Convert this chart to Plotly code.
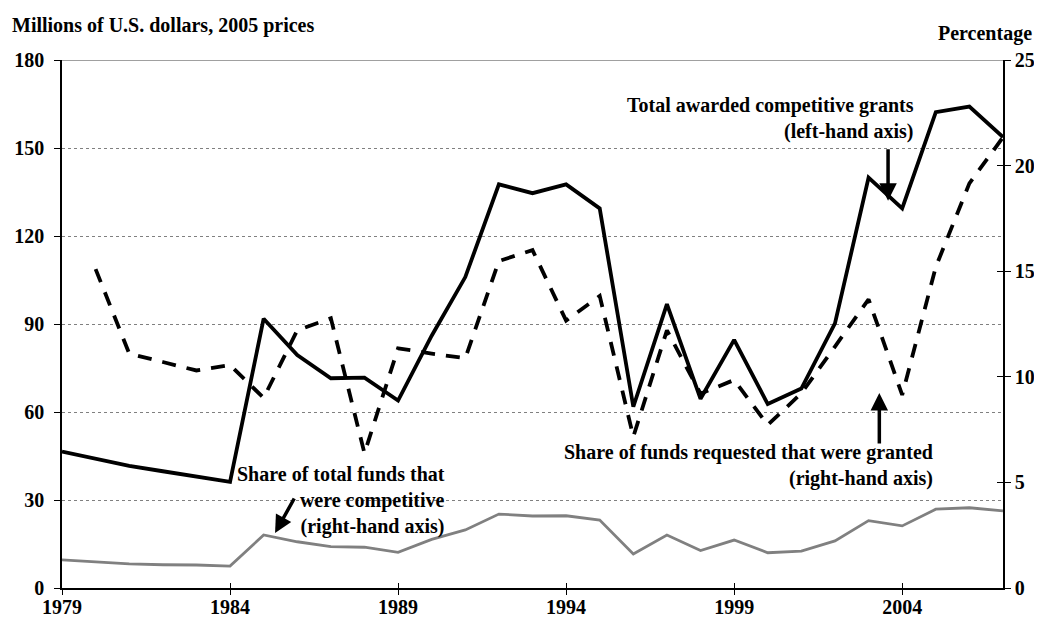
import plotly.graph_objects as go

years = list(range(1979, 2008))

# Total awarded competitive grants (millions of 2005 USD, left axis)
total_awarded = [46.5, 44.2, 41.6, 39.8, 37.9, 36.2, 91.8, 79.4, 71.5, 71.7,
                 63.9, 86.0, 106.0, 137.6, 134.6, 137.6, 129.4, 61.8, 96.8, 64.5,
                 84.6, 62.7, 68.0, 90.2, 139.9, 129.4, 162.2, 164.1, 153.7]

# Share of funds requested that were granted (%, right axis)
share_granted = [None, 15.1, 11.1, 10.7, 10.3, 10.55, 9.0, 12.2, 12.77, 6.38,
                 11.35, 11.1, 10.88, 15.48, 16.0, 12.66, 13.83, 7.16, 12.2, 9.2,
                 9.85, 7.72, 9.22, 11.43, 13.67, 9.14, 15.2, 19.16, 21.34]

# Share of total funds that were competitive (%, right axis)
share_competitive = [1.33, 1.24, 1.14, 1.1, 1.09, 1.04, 2.51, 2.19, 1.96, 1.93,
                     1.69, 2.3, 2.75, 3.5, 3.41, 3.42, 3.22, 1.61, 2.51, 1.77,
                     2.27, 1.67, 1.75, 2.23, 3.19, 2.94, 3.73, 3.8, 3.65]

left_ticks = [0, 30, 60, 90, 120, 150, 180]
right_ticks = [0, 5, 10, 15, 20, 25]
x_ticks = [1979, 1984, 1989, 1994, 1999, 2004]

FONT = "Liberation Serif, Times New Roman, serif"
FS = 20

fig = go.Figure()
fig.add_trace(go.Scatter(x=years, y=total_awarded, mode="lines",
                         line=dict(color="black", width=3.8), yaxis="y",
                         showlegend=False))
fig.add_trace(go.Scatter(x=years, y=share_granted, mode="lines",
                         line=dict(color="black", width=3.8, dash="14px,11px"),
                         yaxis="y2", showlegend=False, connectgaps=False))
fig.add_trace(go.Scatter(x=years, y=share_competitive, mode="lines",
                         line=dict(color="#808080", width=2.8), yaxis="y2",
                         showlegend=False))

tf = dict(family=FONT, size=FS, color="black", weight="bold")

# page body has an 8px margin: size the figure so the plot area lands where the reference has it
fig.update_layout(
    width=1034, height=609,
    margin=dict(l=54, r=39, t=52, b=29, autoexpand=False),
    paper_bgcolor="white", plot_bgcolor="white",
    font=dict(family=FONT, size=FS, color="black", weight="bold"),
    xaxis=dict(range=[1979, 2007], tickvals=x_ticks, ticktext=[str(v) for v in x_ticks],
               showgrid=False, zeroline=False, showline=True, linecolor="black",
               linewidth=1.5, ticks="outside", ticklen=5, tickcolor="black",
               ticklabelstandoff=-5, automargin=False, tickfont=tf),
    xaxis2=dict(range=[1979, 2007], tickvals=x_ticks, overlaying="x", side="bottom",
                anchor="y", showgrid=False, zeroline=False, showline=False,
                ticks="inside", ticklen=5, tickcolor="black", showticklabels=False,
                automargin=False),
    yaxis=dict(range=[0, 180], tickvals=left_ticks, showgrid=True,
               gridcolor="#808080", griddash="dot", gridwidth=1,
               zeroline=False, showline=True, linecolor="black", linewidth=1.5,
               ticks="outside", ticklen=6, tickcolor="black",
               ticklabelstandoff=6, automargin=False, tickfont=tf),
    yaxis2=dict(range=[0, 25], tickvals=right_ticks, overlaying="y", side="right",
                showgrid=False, zeroline=False, showline=True, linecolor="black",
                linewidth=1.5, ticks="outside", ticklen=6, tickcolor="black",
                ticklabelstandoff=0, automargin=False, tickfont=tf),
    yaxis3=dict(range=[0, 25], tickvals=right_ticks, overlaying="y", side="right",
                anchor="x", showgrid=False, zeroline=False, showline=False,
                ticks="inside", ticklen=6, tickcolor="black", showticklabels=False,
                automargin=False),
)

# empty traces so the inside-tick overlay axes are drawn
fig.add_trace(go.Scatter(x=[], y=[], xaxis="x2", yaxis="y", showlegend=False, hoverinfo="skip"))
fig.add_trace(go.Scatter(x=[], y=[], xaxis="x", yaxis="y3", showlegend=False, hoverinfo="skip"))

# solid grey top border at 180
fig.add_shape(type="line", xref="paper", yref="y", x0=0, x1=1, y0=180, y1=180,
              line=dict(color="#808080", width=1.5))

afont = dict(family=FONT, size=FS, color="black", weight="bold")

# axis titles
fig.add_annotation(text="Millions of U.S. dollars, 2005 prices", xref="paper", yref="paper",
                   x=-0.0551, y=1.066, xanchor="left", yanchor="middle", showarrow=False,
                   font=afont)
fig.add_annotation(text="Percentage", xref="paper", yref="paper",
                   x=1.033, y=1.051, xanchor="right", yanchor="middle", showarrow=False,
                   font=afont)

# series labels
fig.add_annotation(text="Total awarded competitive grants<br>(left-hand axis)",
                   x=2004.42, y=160.0, xref="x", yref="y", xanchor="right",
                   yanchor="middle", align="right", showarrow=False, font=afont)
fig.add_annotation(text="Share of funds requested that were granted<br>(right-hand axis)",
                   x=2004.99, y=41.6, xref="x", yref="y", xanchor="right",
                   yanchor="middle", align="right", showarrow=False, font=afont)
fig.add_annotation(text="Share of total funds that<br>were competitive<br>(right-hand axis)",
                   x=1990.46, y=30.0, xref="x", yref="y", xanchor="right",
                   yanchor="middle", align="right", showarrow=False, font=afont)

# arrows
arrow = dict(showarrow=True, arrowhead=2, arrowsize=1.0, arrowwidth=3.5,
             arrowcolor="black", text="", xref="x", yref="y")
fig.add_annotation(x=2003.58, y=132.0, ax=0, ay=-53, **arrow)
fig.add_annotation(x=2003.32, y=66.5, ax=0, ay=52, **arrow)
fig.add_annotation(x=1985.34, y=18.75, ax=20, ay=-36, **arrow)

fig.write_html("out.html")
